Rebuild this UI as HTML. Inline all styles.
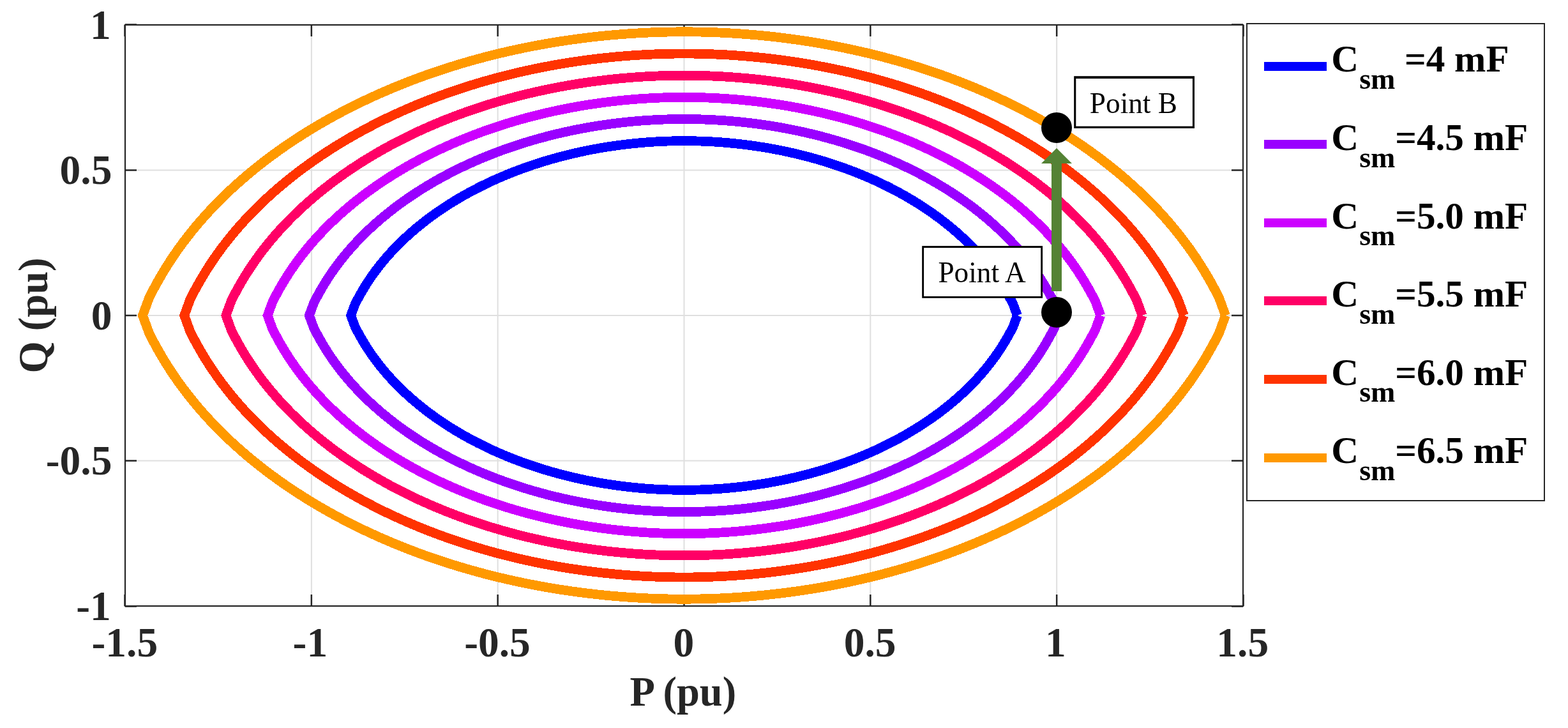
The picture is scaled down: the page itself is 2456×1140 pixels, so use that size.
<!DOCTYPE html>
<html lang="en"><head><meta charset="utf-8"><title>PQ capability vs submodule capacitance</title>
<style>
html,body{margin:0;padding:0;background:#fff;}
body{width:2456px;height:1140px;overflow:hidden;}
svg{display:block;}
text{font-family:"Liberation Serif",serif;}
.tick{font-weight:bold;font-size:65.5px;fill:#262626;}
.lab{font-weight:bold;font-size:64.5px;fill:#262626;}
.leg{font-weight:bold;font-size:59.2px;fill:#000;white-space:pre;}
.sub{font-size:46px;}
.ann{font-size:46px;fill:#000;}
</style></head><body>
<svg width="2456" height="1140" viewBox="0 0 2456 1140" role="img" aria-label="P-Q operating region for six submodule capacitance values">
<rect x="0" y="0" width="2456" height="1140" fill="#fff"/>
<g stroke="#dfdfdf" stroke-width="2" fill="none">
<line x1="487.83" y1="39.0" x2="487.83" y2="949.0"/>
<line x1="779.67" y1="39.0" x2="779.67" y2="949.0"/>
<line x1="1071.50" y1="39.0" x2="1071.50" y2="949.0"/>
<line x1="1363.33" y1="39.0" x2="1363.33" y2="949.0"/>
<line x1="1655.17" y1="39.0" x2="1655.17" y2="949.0"/>
<line x1="196.0" y1="721.50" x2="1947.0" y2="721.50"/>
<line x1="196.0" y1="494.00" x2="1947.0" y2="494.00"/>
<line x1="196.0" y1="266.50" x2="1947.0" y2="266.50"/>
</g>
<g stroke="#262626" stroke-width="2.5" fill="none">
<line x1="195.50" y1="949.0" x2="195.50" y2="931.0"/>
<line x1="195.50" y1="39.0" x2="195.50" y2="57.0"/>
<line x1="487.83" y1="949.0" x2="487.83" y2="931.0"/>
<line x1="487.83" y1="39.0" x2="487.83" y2="57.0"/>
<line x1="779.67" y1="949.0" x2="779.67" y2="931.0"/>
<line x1="779.67" y1="39.0" x2="779.67" y2="57.0"/>
<line x1="1071.50" y1="949.0" x2="1071.50" y2="931.0"/>
<line x1="1071.50" y1="39.0" x2="1071.50" y2="57.0"/>
<line x1="1363.33" y1="949.0" x2="1363.33" y2="931.0"/>
<line x1="1363.33" y1="39.0" x2="1363.33" y2="57.0"/>
<line x1="1655.17" y1="949.0" x2="1655.17" y2="931.0"/>
<line x1="1655.17" y1="39.0" x2="1655.17" y2="57.0"/>
<line x1="1947.50" y1="949.0" x2="1947.50" y2="931.0"/>
<line x1="1947.50" y1="39.0" x2="1947.50" y2="57.0"/>
<line x1="196.0" y1="949.50" x2="214.0" y2="949.50"/>
<line x1="1947.0" y1="949.50" x2="1929.0" y2="949.50"/>
<line x1="196.0" y1="721.50" x2="214.0" y2="721.50"/>
<line x1="1947.0" y1="721.50" x2="1929.0" y2="721.50"/>
<line x1="196.0" y1="494.00" x2="214.0" y2="494.00"/>
<line x1="1947.0" y1="494.00" x2="1929.0" y2="494.00"/>
<line x1="196.0" y1="266.50" x2="214.0" y2="266.50"/>
<line x1="1947.0" y1="266.50" x2="1929.0" y2="266.50"/>
<line x1="196.0" y1="38.50" x2="214.0" y2="38.50"/>
<line x1="1947.0" y1="38.50" x2="1929.0" y2="38.50"/>
</g>
<g fill="none" stroke-width="14.8" stroke-linejoin="miter" stroke-linecap="butt" stroke-miterlimit="10" shape-rendering="crispEdges">
<path d="M1593.39 494.00 L1587.07 476.77 L1583.36 469.59 L1579.69 462.82 L1575.88 456.14 L1571.94 449.55 L1567.85 443.06 L1563.62 436.67 L1559.25 430.37 L1554.75 424.18 L1550.11 418.09 L1545.35 412.11 L1540.47 406.23 L1535.47 400.46 L1530.37 394.80 L1525.15 389.24 L1519.85 383.80 L1514.44 378.46 L1508.95 373.24 L1503.38 368.12 L1497.73 363.12 L1492.01 358.22 L1486.22 353.43 L1480.36 348.75 L1474.45 344.17 L1468.48 339.70 L1462.47 335.34 L1456.40 331.08 L1450.30 326.93 L1444.15 322.88 L1437.98 318.93 L1431.77 315.08 L1425.53 311.33 L1419.26 307.68 L1412.97 304.12 L1406.66 300.66 L1400.34 297.30 L1394.00 294.02 L1387.64 290.84 L1381.28 287.75 L1374.91 284.74 L1368.53 281.82 L1362.14 278.99 L1355.75 276.24 L1349.36 273.58 L1342.97 270.99 L1336.58 268.49 L1330.19 266.06 L1323.81 263.71 L1317.43 261.43 L1311.05 259.23 L1304.68 257.10 L1298.31 255.05 L1291.96 253.06 L1285.61 251.15 L1279.26 249.30 L1272.93 247.52 L1266.61 245.80 L1260.29 244.15 L1253.98 242.56 L1247.69 241.04 L1241.40 239.58 L1235.12 238.17 L1228.85 236.83 L1222.59 235.54 L1216.34 234.32 L1210.10 233.15 L1203.87 232.04 L1197.65 230.98 L1191.43 229.98 L1185.23 229.03 L1179.03 228.13 L1172.84 227.29 L1166.66 226.50 L1160.49 225.76 L1154.32 225.08 L1148.16 224.44 L1142.00 223.86 L1135.85 223.32 L1129.71 222.84 L1123.57 222.40 L1117.43 222.02 L1111.30 221.68 L1105.17 221.39 L1099.05 221.15 L1092.92 220.96 L1086.80 220.81 L1080.68 220.72 L1074.56 220.67 L1071.50 220.66 L1068.44 220.67 L1062.32 220.72 L1056.20 220.81 L1050.08 220.96 L1043.95 221.15 L1037.83 221.39 L1031.70 221.68 L1025.57 222.02 L1019.43 222.40 L1013.29 222.84 L1007.15 223.32 L1001.00 223.86 L994.84 224.44 L988.68 225.08 L982.51 225.76 L976.34 226.50 L970.16 227.29 L963.97 228.13 L957.77 229.03 L951.57 229.98 L945.35 230.98 L939.13 232.04 L932.90 233.15 L926.66 234.32 L920.41 235.54 L914.15 236.83 L907.88 238.17 L901.60 239.58 L895.31 241.04 L889.02 242.56 L882.71 244.15 L876.39 245.80 L870.07 247.52 L863.74 249.30 L857.39 251.15 L851.04 253.06 L844.69 255.05 L838.32 257.10 L831.95 259.23 L825.57 261.43 L819.19 263.71 L812.81 266.06 L806.42 268.49 L800.03 270.99 L793.64 273.58 L787.25 276.24 L780.86 278.99 L774.47 281.82 L768.09 284.74 L761.72 287.75 L755.36 290.84 L749.00 294.02 L742.66 297.30 L736.34 300.66 L730.03 304.12 L723.74 307.68 L717.47 311.33 L711.23 315.08 L705.02 318.93 L698.85 322.88 L692.70 326.93 L686.60 331.08 L680.53 335.34 L674.52 339.70 L668.55 344.17 L662.64 348.75 L656.78 353.43 L650.99 358.22 L645.27 363.12 L639.62 368.12 L634.05 373.24 L628.56 378.46 L623.15 383.80 L617.85 389.24 L612.63 394.80 L607.53 400.46 L602.53 406.23 L597.65 412.11 L592.89 418.09 L588.25 424.18 L583.75 430.37 L579.38 436.67 L575.15 443.06 L571.06 449.55 L567.12 456.14 L563.31 462.82 L559.64 469.59 L555.93 476.77 L549.61 494.00 L555.93 511.23 L559.64 518.41 L563.31 525.18 L567.12 531.86 L571.06 538.45 L575.15 544.94 L579.38 551.33 L583.75 557.63 L588.25 563.82 L592.89 569.91 L597.65 575.89 L602.53 581.77 L607.53 587.54 L612.63 593.20 L617.85 598.76 L623.15 604.20 L628.56 609.54 L634.05 614.76 L639.62 619.88 L645.27 624.88 L650.99 629.78 L656.78 634.57 L662.64 639.25 L668.55 643.83 L674.52 648.30 L680.53 652.66 L686.60 656.92 L692.70 661.07 L698.85 665.12 L705.02 669.07 L711.23 672.92 L717.47 676.67 L723.74 680.32 L730.03 683.88 L736.34 687.34 L742.66 690.70 L749.00 693.98 L755.36 697.16 L761.72 700.25 L768.09 703.26 L774.47 706.18 L780.86 709.01 L787.25 711.76 L793.64 714.42 L800.03 717.01 L806.42 719.51 L812.81 721.94 L819.19 724.29 L825.57 726.57 L831.95 728.77 L838.32 730.90 L844.69 732.95 L851.04 734.94 L857.39 736.85 L863.74 738.70 L870.07 740.48 L876.39 742.20 L882.71 743.85 L889.02 745.44 L895.31 746.96 L901.60 748.42 L907.88 749.83 L914.15 751.17 L920.41 752.46 L926.66 753.68 L932.90 754.85 L939.13 755.96 L945.35 757.02 L951.57 758.02 L957.77 758.97 L963.97 759.87 L970.16 760.71 L976.34 761.50 L982.51 762.24 L988.68 762.92 L994.84 763.56 L1001.00 764.14 L1007.15 764.68 L1013.29 765.16 L1019.43 765.60 L1025.57 765.98 L1031.70 766.32 L1037.83 766.61 L1043.95 766.85 L1050.08 767.04 L1056.20 767.19 L1062.32 767.28 L1068.44 767.33 L1071.50 767.34 L1074.56 767.33 L1080.68 767.28 L1086.80 767.19 L1092.92 767.04 L1099.05 766.85 L1105.17 766.61 L1111.30 766.32 L1117.43 765.98 L1123.57 765.60 L1129.71 765.16 L1135.85 764.68 L1142.00 764.14 L1148.16 763.56 L1154.32 762.92 L1160.49 762.24 L1166.66 761.50 L1172.84 760.71 L1179.03 759.87 L1185.23 758.97 L1191.43 758.02 L1197.65 757.02 L1203.87 755.96 L1210.10 754.85 L1216.34 753.68 L1222.59 752.46 L1228.85 751.17 L1235.12 749.83 L1241.40 748.42 L1247.69 746.96 L1253.98 745.44 L1260.29 743.85 L1266.61 742.20 L1272.93 740.48 L1279.26 738.70 L1285.61 736.85 L1291.96 734.94 L1298.31 732.95 L1304.68 730.90 L1311.05 728.77 L1317.43 726.57 L1323.81 724.29 L1330.19 721.94 L1336.58 719.51 L1342.97 717.01 L1349.36 714.42 L1355.75 711.76 L1362.14 709.01 L1368.53 706.18 L1374.91 703.26 L1381.28 700.25 L1387.64 697.16 L1394.00 693.98 L1400.34 690.70 L1406.66 687.34 L1412.97 683.88 L1419.26 680.32 L1425.53 676.67 L1431.77 672.92 L1437.98 669.07 L1444.15 665.12 L1450.30 661.07 L1456.40 656.92 L1462.47 652.66 L1468.48 648.30 L1474.45 643.83 L1480.36 639.25 L1486.22 634.57 L1492.01 629.78 L1497.73 624.88 L1503.38 619.88 L1508.95 614.76 L1514.44 609.54 L1519.85 604.20 L1525.15 598.76 L1530.37 593.20 L1535.47 587.54 L1540.47 581.77 L1545.35 575.89 L1550.11 569.91 L1554.75 563.82 L1559.25 557.63 L1563.62 551.33 L1567.85 544.94 L1571.94 538.45 L1575.88 531.86 L1579.69 525.18 L1583.36 518.41 L1587.07 511.23 L1593.39 494.00" stroke="#0000ff"/>
<path d="M1658.62 494.00 L1651.51 474.61 L1647.35 466.54 L1643.22 458.92 L1638.93 451.41 L1634.49 444.00 L1629.89 436.69 L1625.13 429.50 L1620.22 422.42 L1615.15 415.45 L1609.94 408.60 L1604.58 401.87 L1599.09 395.26 L1593.47 388.77 L1587.72 382.40 L1581.86 376.15 L1575.89 370.02 L1569.81 364.02 L1563.63 358.14 L1557.36 352.39 L1551.01 346.76 L1544.57 341.24 L1538.05 335.86 L1531.47 330.59 L1524.82 325.44 L1518.11 320.42 L1511.34 315.51 L1504.52 310.72 L1497.65 306.05 L1490.74 301.49 L1483.79 297.05 L1476.80 292.72 L1469.78 288.50 L1462.73 284.39 L1455.66 280.39 L1448.56 276.50 L1441.44 272.71 L1434.31 269.03 L1427.16 265.45 L1420.00 261.97 L1412.83 258.59 L1405.66 255.30 L1398.47 252.12 L1391.29 249.02 L1384.10 246.02 L1376.91 243.11 L1369.72 240.30 L1362.53 237.57 L1355.35 234.92 L1348.17 232.36 L1340.99 229.89 L1333.83 227.49 L1326.67 225.18 L1319.51 222.95 L1312.37 220.79 L1305.24 218.71 L1298.11 216.71 L1290.99 214.78 L1283.89 212.92 L1276.79 211.13 L1269.71 209.42 L1262.64 207.77 L1255.57 206.19 L1248.52 204.68 L1241.48 203.24 L1234.45 201.86 L1227.43 200.54 L1220.42 199.29 L1213.42 198.10 L1206.43 196.97 L1199.45 195.91 L1192.47 194.90 L1185.51 193.95 L1178.56 193.06 L1171.61 192.23 L1164.67 191.46 L1157.74 190.75 L1150.82 190.09 L1143.90 189.49 L1136.98 188.94 L1130.08 188.45 L1123.17 188.02 L1116.28 187.64 L1109.38 187.31 L1102.49 187.04 L1095.60 186.83 L1088.71 186.66 L1081.83 186.56 L1074.94 186.50 L1071.50 186.50 L1068.06 186.50 L1061.17 186.56 L1054.29 186.66 L1047.40 186.83 L1040.51 187.04 L1033.62 187.31 L1026.72 187.64 L1019.83 188.02 L1012.92 188.45 L1006.02 188.94 L999.10 189.49 L992.18 190.09 L985.26 190.75 L978.33 191.46 L971.39 192.23 L964.44 193.06 L957.49 193.95 L950.53 194.90 L943.55 195.91 L936.57 196.97 L929.58 198.10 L922.58 199.29 L915.57 200.54 L908.55 201.86 L901.52 203.24 L894.48 204.68 L887.43 206.19 L880.36 207.77 L873.29 209.42 L866.21 211.13 L859.11 212.92 L852.01 214.78 L844.89 216.71 L837.76 218.71 L830.63 220.79 L823.49 222.95 L816.33 225.18 L809.17 227.49 L802.01 229.89 L794.83 232.36 L787.65 234.92 L780.47 237.57 L773.28 240.30 L766.09 243.11 L758.90 246.02 L751.71 249.02 L744.53 252.12 L737.34 255.30 L730.17 258.59 L723.00 261.97 L715.84 265.45 L708.69 269.03 L701.56 272.71 L694.44 276.50 L687.34 280.39 L680.27 284.39 L673.22 288.50 L666.20 292.72 L659.21 297.05 L652.26 301.49 L645.35 306.05 L638.48 310.72 L631.66 315.51 L624.89 320.42 L618.18 325.44 L611.53 330.59 L604.95 335.86 L598.43 341.24 L591.99 346.76 L585.64 352.39 L579.37 358.14 L573.19 364.02 L567.11 370.02 L561.14 376.15 L555.28 382.40 L549.53 388.77 L543.91 395.26 L538.42 401.87 L533.06 408.60 L527.85 415.45 L522.78 422.42 L517.87 429.50 L513.11 436.69 L508.51 444.00 L504.07 451.41 L499.78 458.92 L495.65 466.54 L491.49 474.61 L484.38 494.00 L491.49 513.39 L495.65 521.46 L499.78 529.08 L504.07 536.59 L508.51 544.00 L513.11 551.31 L517.87 558.50 L522.78 565.58 L527.85 572.55 L533.06 579.40 L538.42 586.13 L543.91 592.74 L549.53 599.23 L555.28 605.60 L561.14 611.85 L567.11 617.98 L573.19 623.98 L579.37 629.86 L585.64 635.61 L591.99 641.24 L598.43 646.76 L604.95 652.14 L611.53 657.41 L618.18 662.56 L624.89 667.58 L631.66 672.49 L638.48 677.28 L645.35 681.95 L652.26 686.51 L659.21 690.95 L666.20 695.28 L673.22 699.50 L680.27 703.61 L687.34 707.61 L694.44 711.50 L701.56 715.29 L708.69 718.97 L715.84 722.55 L723.00 726.03 L730.17 729.41 L737.34 732.70 L744.53 735.88 L751.71 738.98 L758.90 741.98 L766.09 744.89 L773.28 747.70 L780.47 750.43 L787.65 753.08 L794.83 755.64 L802.01 758.11 L809.17 760.51 L816.33 762.82 L823.49 765.05 L830.63 767.21 L837.76 769.29 L844.89 771.29 L852.01 773.22 L859.11 775.08 L866.21 776.87 L873.29 778.58 L880.36 780.23 L887.43 781.81 L894.48 783.32 L901.52 784.76 L908.55 786.14 L915.57 787.46 L922.58 788.71 L929.58 789.90 L936.57 791.03 L943.55 792.09 L950.53 793.10 L957.49 794.05 L964.44 794.94 L971.39 795.77 L978.33 796.54 L985.26 797.25 L992.18 797.91 L999.10 798.51 L1006.02 799.06 L1012.92 799.55 L1019.83 799.98 L1026.72 800.36 L1033.62 800.69 L1040.51 800.96 L1047.40 801.17 L1054.29 801.34 L1061.17 801.44 L1068.06 801.50 L1071.50 801.50 L1074.94 801.50 L1081.83 801.44 L1088.71 801.34 L1095.60 801.17 L1102.49 800.96 L1109.38 800.69 L1116.28 800.36 L1123.17 799.98 L1130.08 799.55 L1136.98 799.06 L1143.90 798.51 L1150.82 797.91 L1157.74 797.25 L1164.67 796.54 L1171.61 795.77 L1178.56 794.94 L1185.51 794.05 L1192.47 793.10 L1199.45 792.09 L1206.43 791.03 L1213.42 789.90 L1220.42 788.71 L1227.43 787.46 L1234.45 786.14 L1241.48 784.76 L1248.52 783.32 L1255.57 781.81 L1262.64 780.23 L1269.71 778.58 L1276.79 776.87 L1283.89 775.08 L1290.99 773.22 L1298.11 771.29 L1305.24 769.29 L1312.37 767.21 L1319.51 765.05 L1326.67 762.82 L1333.83 760.51 L1340.99 758.11 L1348.17 755.64 L1355.35 753.08 L1362.53 750.43 L1369.72 747.70 L1376.91 744.89 L1384.10 741.98 L1391.29 738.98 L1398.47 735.88 L1405.66 732.70 L1412.83 729.41 L1420.00 726.03 L1427.16 722.55 L1434.31 718.97 L1441.44 715.29 L1448.56 711.50 L1455.66 707.61 L1462.73 703.61 L1469.78 699.50 L1476.80 695.28 L1483.79 690.95 L1490.74 686.51 L1497.65 681.95 L1504.52 677.28 L1511.34 672.49 L1518.11 667.58 L1524.82 662.56 L1531.47 657.41 L1538.05 652.14 L1544.57 646.76 L1551.01 641.24 L1557.36 635.61 L1563.63 629.86 L1569.81 623.98 L1575.89 617.98 L1581.86 611.85 L1587.72 605.60 L1593.47 599.23 L1599.09 592.74 L1604.58 586.13 L1609.94 579.40 L1615.15 572.55 L1620.22 565.58 L1625.13 558.50 L1629.89 551.31 L1634.49 544.00 L1638.93 536.59 L1643.22 529.08 L1647.35 521.46 L1651.51 513.39 L1658.62 494.00" stroke="#9900ff"/>
<path d="M1723.86 494.00 L1715.96 472.46 L1711.33 463.49 L1706.74 455.03 L1701.98 446.67 L1697.05 438.44 L1691.94 430.32 L1686.65 422.33 L1681.19 414.46 L1675.56 406.72 L1669.77 399.11 L1663.81 391.63 L1657.71 384.29 L1651.47 377.08 L1645.08 370.00 L1638.57 363.06 L1631.93 356.25 L1625.18 349.58 L1618.32 343.05 L1611.35 336.65 L1604.29 330.39 L1597.13 324.27 L1589.89 318.29 L1582.58 312.43 L1575.19 306.71 L1567.73 301.13 L1560.21 295.68 L1552.63 290.36 L1545.00 285.16 L1537.32 280.10 L1529.59 275.16 L1521.83 270.35 L1514.03 265.66 L1506.20 261.10 L1498.34 256.65 L1490.46 252.33 L1482.55 248.12 L1474.62 244.03 L1466.68 240.05 L1458.73 236.18 L1450.76 232.43 L1442.78 228.78 L1434.80 225.24 L1426.82 221.80 L1418.83 218.47 L1410.84 215.24 L1402.85 212.11 L1394.87 209.07 L1386.89 206.13 L1378.91 203.29 L1370.94 200.54 L1362.97 197.88 L1355.02 195.31 L1347.07 192.83 L1339.13 190.43 L1331.21 188.12 L1323.29 185.90 L1315.38 183.75 L1307.49 181.69 L1299.60 179.70 L1291.73 177.80 L1283.87 175.97 L1276.03 174.22 L1268.19 172.54 L1260.37 170.93 L1252.55 169.40 L1244.75 167.94 L1236.96 166.55 L1229.19 165.22 L1221.42 163.97 L1213.66 162.78 L1205.92 161.67 L1198.18 160.61 L1190.45 159.63 L1182.73 158.71 L1175.02 157.85 L1167.32 157.05 L1159.63 156.32 L1151.94 155.65 L1144.26 155.05 L1136.59 154.50 L1128.92 154.02 L1121.25 153.60 L1113.59 153.24 L1105.93 152.94 L1098.28 152.70 L1090.63 152.52 L1082.97 152.40 L1075.32 152.34 L1071.50 152.33 L1067.68 152.34 L1060.03 152.40 L1052.37 152.52 L1044.72 152.70 L1037.07 152.94 L1029.41 153.24 L1021.75 153.60 L1014.08 154.02 L1006.41 154.50 L998.74 155.05 L991.06 155.65 L983.37 156.32 L975.68 157.05 L967.98 157.85 L960.27 158.71 L952.55 159.63 L944.82 160.61 L937.08 161.67 L929.34 162.78 L921.58 163.97 L913.81 165.22 L906.04 166.55 L898.25 167.94 L890.45 169.40 L882.63 170.93 L874.81 172.54 L866.97 174.22 L859.13 175.97 L851.27 177.80 L843.40 179.70 L835.51 181.69 L827.62 183.75 L819.71 185.90 L811.79 188.12 L803.87 190.43 L795.93 192.83 L787.98 195.31 L780.03 197.88 L772.06 200.54 L764.09 203.29 L756.11 206.13 L748.13 209.07 L740.15 212.11 L732.16 215.24 L724.17 218.47 L716.18 221.80 L708.20 225.24 L700.22 228.78 L692.24 232.43 L684.27 236.18 L676.32 240.05 L668.38 244.03 L660.45 248.12 L652.54 252.33 L644.66 256.65 L636.80 261.10 L628.97 265.66 L621.17 270.35 L613.41 275.16 L605.68 280.10 L598.00 285.16 L590.37 290.36 L582.79 295.68 L575.27 301.13 L567.81 306.71 L560.42 312.43 L553.11 318.29 L545.87 324.27 L538.71 330.39 L531.65 336.65 L524.68 343.05 L517.82 349.58 L511.07 356.25 L504.43 363.06 L497.92 370.00 L491.53 377.08 L485.29 384.29 L479.19 391.63 L473.23 399.11 L467.44 406.72 L461.81 414.46 L456.35 422.33 L451.06 430.32 L445.95 438.44 L441.02 446.67 L436.26 455.03 L431.67 463.49 L427.04 472.46 L419.14 494.00 L427.04 515.54 L431.67 524.51 L436.26 532.97 L441.02 541.33 L445.95 549.56 L451.06 557.68 L456.35 565.67 L461.81 573.54 L467.44 581.28 L473.23 588.89 L479.19 596.37 L485.29 603.71 L491.53 610.92 L497.92 618.00 L504.43 624.94 L511.07 631.75 L517.82 638.42 L524.68 644.95 L531.65 651.35 L538.71 657.61 L545.87 663.73 L553.11 669.71 L560.42 675.57 L567.81 681.29 L575.27 686.87 L582.79 692.32 L590.37 697.64 L598.00 702.84 L605.68 707.90 L613.41 712.84 L621.17 717.65 L628.97 722.34 L636.80 726.90 L644.66 731.35 L652.54 735.67 L660.45 739.88 L668.38 743.97 L676.32 747.95 L684.27 751.82 L692.24 755.57 L700.22 759.22 L708.20 762.76 L716.18 766.20 L724.17 769.53 L732.16 772.76 L740.15 775.89 L748.13 778.93 L756.11 781.87 L764.09 784.71 L772.06 787.46 L780.03 790.12 L787.98 792.69 L795.93 795.17 L803.87 797.57 L811.79 799.88 L819.71 802.10 L827.62 804.25 L835.51 806.31 L843.40 808.30 L851.27 810.20 L859.13 812.03 L866.97 813.78 L874.81 815.46 L882.63 817.07 L890.45 818.60 L898.25 820.06 L906.04 821.45 L913.81 822.78 L921.58 824.03 L929.34 825.22 L937.08 826.33 L944.82 827.39 L952.55 828.37 L960.27 829.29 L967.98 830.15 L975.68 830.95 L983.37 831.68 L991.06 832.35 L998.74 832.95 L1006.41 833.50 L1014.08 833.98 L1021.75 834.40 L1029.41 834.76 L1037.07 835.06 L1044.72 835.30 L1052.37 835.48 L1060.03 835.60 L1067.68 835.66 L1071.50 835.67 L1075.32 835.66 L1082.97 835.60 L1090.63 835.48 L1098.28 835.30 L1105.93 835.06 L1113.59 834.76 L1121.25 834.40 L1128.92 833.98 L1136.59 833.50 L1144.26 832.95 L1151.94 832.35 L1159.63 831.68 L1167.32 830.95 L1175.02 830.15 L1182.73 829.29 L1190.45 828.37 L1198.18 827.39 L1205.92 826.33 L1213.66 825.22 L1221.42 824.03 L1229.19 822.78 L1236.96 821.45 L1244.75 820.06 L1252.55 818.60 L1260.37 817.07 L1268.19 815.46 L1276.03 813.78 L1283.87 812.03 L1291.73 810.20 L1299.60 808.30 L1307.49 806.31 L1315.38 804.25 L1323.29 802.10 L1331.21 799.88 L1339.13 797.57 L1347.07 795.17 L1355.02 792.69 L1362.97 790.12 L1370.94 787.46 L1378.91 784.71 L1386.89 781.87 L1394.87 778.93 L1402.85 775.89 L1410.84 772.76 L1418.83 769.53 L1426.82 766.20 L1434.80 762.76 L1442.78 759.22 L1450.76 755.57 L1458.73 751.82 L1466.68 747.95 L1474.62 743.97 L1482.55 739.88 L1490.46 735.67 L1498.34 731.35 L1506.20 726.90 L1514.03 722.34 L1521.83 717.65 L1529.59 712.84 L1537.32 707.90 L1545.00 702.84 L1552.63 697.64 L1560.21 692.32 L1567.73 686.87 L1575.19 681.29 L1582.58 675.57 L1589.89 669.71 L1597.13 663.73 L1604.29 657.61 L1611.35 651.35 L1618.32 644.95 L1625.18 638.42 L1631.93 631.75 L1638.57 624.94 L1645.08 618.00 L1651.47 610.92 L1657.71 603.71 L1663.81 596.37 L1669.77 588.89 L1675.56 581.28 L1681.19 573.54 L1686.65 565.67 L1691.94 557.68 L1697.05 549.56 L1701.98 541.33 L1706.74 532.97 L1711.33 524.51 L1715.96 515.54 L1723.86 494.00" stroke="#cc00ff"/>
<path d="M1789.10 494.00 L1780.41 470.31 L1775.31 460.44 L1770.26 451.13 L1765.03 441.94 L1759.60 432.88 L1753.98 423.96 L1748.16 415.17 L1742.16 406.51 L1735.96 398.00 L1729.59 389.63 L1723.05 381.40 L1716.33 373.32 L1709.46 365.38 L1702.44 357.60 L1695.28 349.96 L1687.98 342.47 L1680.55 335.14 L1673.00 327.95 L1665.33 320.92 L1657.56 314.03 L1649.70 307.30 L1641.73 300.71 L1633.68 294.28 L1625.56 287.99 L1617.35 281.84 L1609.08 275.84 L1600.74 269.99 L1592.35 264.28 L1583.90 258.71 L1575.40 253.28 L1566.86 247.99 L1558.29 242.83 L1549.67 237.81 L1541.03 232.92 L1532.35 228.16 L1523.65 223.53 L1514.94 219.03 L1506.20 214.66 L1497.45 210.40 L1488.69 206.27 L1479.91 202.26 L1471.13 198.36 L1462.35 194.58 L1453.56 190.92 L1444.77 187.36 L1435.99 183.92 L1427.20 180.58 L1418.42 177.35 L1409.65 174.22 L1400.88 171.19 L1392.12 168.27 L1383.37 165.44 L1374.63 162.71 L1365.90 160.08 L1357.18 157.54 L1348.47 155.09 L1339.77 152.73 L1331.09 150.46 L1322.41 148.27 L1313.76 146.18 L1305.11 144.17 L1296.48 142.24 L1287.86 140.39 L1279.25 138.62 L1270.66 136.94 L1262.08 135.33 L1253.51 133.80 L1244.95 132.35 L1236.41 130.97 L1227.88 129.66 L1219.36 128.43 L1210.85 127.28 L1202.35 126.19 L1193.86 125.18 L1185.38 124.23 L1176.91 123.36 L1168.44 122.55 L1159.99 121.82 L1151.54 121.15 L1143.09 120.55 L1134.66 120.02 L1126.23 119.56 L1117.80 119.16 L1109.38 118.83 L1100.96 118.57 L1092.54 118.37 L1084.12 118.24 L1075.71 118.17 L1071.50 118.16 L1067.29 118.17 L1058.88 118.24 L1050.46 118.37 L1042.04 118.57 L1033.62 118.83 L1025.20 119.16 L1016.77 119.56 L1008.34 120.02 L999.91 120.55 L991.46 121.15 L983.01 121.82 L974.56 122.55 L966.09 123.36 L957.62 124.23 L949.14 125.18 L940.65 126.19 L932.15 127.28 L923.64 128.43 L915.12 129.66 L906.59 130.97 L898.05 132.35 L889.49 133.80 L880.92 135.33 L872.34 136.94 L863.75 138.62 L855.14 140.39 L846.52 142.24 L837.89 144.17 L829.24 146.18 L820.59 148.27 L811.91 150.46 L803.23 152.73 L794.53 155.09 L785.82 157.54 L777.10 160.08 L768.37 162.71 L759.63 165.44 L750.88 168.27 L742.12 171.19 L733.35 174.22 L724.58 177.35 L715.80 180.58 L707.01 183.92 L698.23 187.36 L689.44 190.92 L680.65 194.58 L671.87 198.36 L663.09 202.26 L654.31 206.27 L645.55 210.40 L636.80 214.66 L628.06 219.03 L619.35 223.53 L610.65 228.16 L601.97 232.92 L593.33 237.81 L584.71 242.83 L576.14 247.99 L567.60 253.28 L559.10 258.71 L550.65 264.28 L542.26 269.99 L533.92 275.84 L525.65 281.84 L517.44 287.99 L509.32 294.28 L501.27 300.71 L493.30 307.30 L485.44 314.03 L477.67 320.92 L470.00 327.95 L462.45 335.14 L455.02 342.47 L447.72 349.96 L440.56 357.60 L433.54 365.38 L426.67 373.32 L419.95 381.40 L413.41 389.63 L407.04 398.00 L400.84 406.51 L394.84 415.17 L389.02 423.96 L383.40 432.88 L377.97 441.94 L372.74 451.13 L367.69 460.44 L362.59 470.31 L353.90 494.00 L362.59 517.69 L367.69 527.56 L372.74 536.87 L377.97 546.06 L383.40 555.12 L389.02 564.04 L394.84 572.83 L400.84 581.49 L407.04 590.00 L413.41 598.37 L419.95 606.60 L426.67 614.68 L433.54 622.62 L440.56 630.40 L447.72 638.04 L455.02 645.53 L462.45 652.86 L470.00 660.05 L477.67 667.08 L485.44 673.97 L493.30 680.70 L501.27 687.29 L509.32 693.72 L517.44 700.01 L525.65 706.16 L533.92 712.16 L542.26 718.01 L550.65 723.72 L559.10 729.29 L567.60 734.72 L576.14 740.01 L584.71 745.17 L593.33 750.19 L601.97 755.08 L610.65 759.84 L619.35 764.47 L628.06 768.97 L636.80 773.34 L645.55 777.60 L654.31 781.73 L663.09 785.74 L671.87 789.64 L680.65 793.42 L689.44 797.08 L698.23 800.64 L707.01 804.08 L715.80 807.42 L724.58 810.65 L733.35 813.78 L742.12 816.81 L750.88 819.73 L759.63 822.56 L768.37 825.29 L777.10 827.92 L785.82 830.46 L794.53 832.91 L803.23 835.27 L811.91 837.54 L820.59 839.73 L829.24 841.82 L837.89 843.83 L846.52 845.76 L855.14 847.61 L863.75 849.38 L872.34 851.06 L880.92 852.67 L889.49 854.20 L898.05 855.65 L906.59 857.03 L915.12 858.34 L923.64 859.57 L932.15 860.72 L940.65 861.81 L949.14 862.82 L957.62 863.77 L966.09 864.64 L974.56 865.45 L983.01 866.18 L991.46 866.85 L999.91 867.45 L1008.34 867.98 L1016.77 868.44 L1025.20 868.84 L1033.62 869.17 L1042.04 869.43 L1050.46 869.63 L1058.88 869.76 L1067.29 869.83 L1071.50 869.84 L1075.71 869.83 L1084.12 869.76 L1092.54 869.63 L1100.96 869.43 L1109.38 869.17 L1117.80 868.84 L1126.23 868.44 L1134.66 867.98 L1143.09 867.45 L1151.54 866.85 L1159.99 866.18 L1168.44 865.45 L1176.91 864.64 L1185.38 863.77 L1193.86 862.82 L1202.35 861.81 L1210.85 860.72 L1219.36 859.57 L1227.88 858.34 L1236.41 857.03 L1244.95 855.65 L1253.51 854.20 L1262.08 852.67 L1270.66 851.06 L1279.25 849.38 L1287.86 847.61 L1296.48 845.76 L1305.11 843.83 L1313.76 841.82 L1322.41 839.73 L1331.09 837.54 L1339.77 835.27 L1348.47 832.91 L1357.18 830.46 L1365.90 827.92 L1374.63 825.29 L1383.37 822.56 L1392.12 819.73 L1400.88 816.81 L1409.65 813.78 L1418.42 810.65 L1427.20 807.42 L1435.99 804.08 L1444.77 800.64 L1453.56 797.08 L1462.35 793.42 L1471.13 789.64 L1479.91 785.74 L1488.69 781.73 L1497.45 777.60 L1506.20 773.34 L1514.94 768.97 L1523.65 764.47 L1532.35 759.84 L1541.03 755.08 L1549.67 750.19 L1558.29 745.17 L1566.86 740.01 L1575.40 734.72 L1583.90 729.29 L1592.35 723.72 L1600.74 718.01 L1609.08 712.16 L1617.35 706.16 L1625.56 700.01 L1633.68 693.72 L1641.73 687.29 L1649.70 680.70 L1657.56 673.97 L1665.33 667.08 L1673.00 660.05 L1680.55 652.86 L1687.98 645.53 L1695.28 638.04 L1702.44 630.40 L1709.46 622.62 L1716.33 614.68 L1723.05 606.60 L1729.59 598.37 L1735.96 590.00 L1742.16 581.49 L1748.16 572.83 L1753.98 564.04 L1759.60 555.12 L1765.03 546.06 L1770.26 536.87 L1775.31 527.56 L1780.41 517.69 L1789.10 494.00" stroke="#ff0066"/>
<path d="M1854.33 494.00 L1844.85 468.15 L1839.29 457.39 L1833.79 447.23 L1828.08 437.21 L1822.16 427.33 L1816.02 417.59 L1809.68 408.00 L1803.13 398.56 L1796.37 389.27 L1789.42 380.14 L1782.28 371.16 L1774.95 362.35 L1767.46 353.69 L1759.80 345.20 L1751.98 336.87 L1744.02 328.70 L1735.91 320.70 L1727.68 312.86 L1719.32 305.18 L1710.84 297.67 L1702.26 290.33 L1693.57 283.14 L1684.79 276.12 L1675.92 269.26 L1666.97 262.56 L1657.95 256.01 L1648.86 249.63 L1639.70 243.40 L1630.48 237.32 L1621.21 231.40 L1611.90 225.62 L1602.54 220.00 L1593.14 214.52 L1583.71 209.19 L1574.25 204.00 L1564.76 198.95 L1555.25 194.03 L1545.72 189.26 L1536.17 184.62 L1526.61 180.11 L1517.04 175.74 L1507.46 171.49 L1497.88 167.36 L1488.30 163.36 L1478.71 159.49 L1469.12 155.73 L1459.54 152.09 L1449.96 148.56 L1440.39 145.15 L1430.83 141.85 L1421.27 138.66 L1411.72 135.57 L1402.19 132.60 L1392.66 129.72 L1383.15 126.95 L1373.65 124.28 L1364.16 121.70 L1354.69 119.23 L1345.23 116.85 L1335.78 114.56 L1326.35 112.36 L1316.93 110.26 L1307.53 108.24 L1298.14 106.32 L1288.76 104.48 L1279.40 102.72 L1270.06 101.05 L1260.72 99.47 L1251.40 97.96 L1242.09 96.54 L1232.80 95.20 L1223.52 93.94 L1214.24 92.75 L1204.98 91.65 L1195.73 90.62 L1186.49 89.66 L1177.25 88.79 L1168.03 87.98 L1158.81 87.26 L1149.60 86.60 L1140.40 86.02 L1131.20 85.52 L1122.01 85.08 L1112.82 84.72 L1103.63 84.44 L1094.45 84.22 L1085.27 84.08 L1076.09 84.00 L1071.50 83.99 L1066.91 84.00 L1057.73 84.08 L1048.55 84.22 L1039.37 84.44 L1030.18 84.72 L1020.99 85.08 L1011.80 85.52 L1002.60 86.02 L993.40 86.60 L984.19 87.26 L974.97 87.98 L965.75 88.79 L956.51 89.66 L947.27 90.62 L938.02 91.65 L928.76 92.75 L919.48 93.94 L910.20 95.20 L900.91 96.54 L891.60 97.96 L882.28 99.47 L872.94 101.05 L863.60 102.72 L854.24 104.48 L844.86 106.32 L835.47 108.24 L826.07 110.26 L816.65 112.36 L807.22 114.56 L797.77 116.85 L788.31 119.23 L778.84 121.70 L769.35 124.28 L759.85 126.95 L750.34 129.72 L740.81 132.60 L731.28 135.57 L721.73 138.66 L712.17 141.85 L702.61 145.15 L693.04 148.56 L683.46 152.09 L673.88 155.73 L664.29 159.49 L654.70 163.36 L645.12 167.36 L635.54 171.49 L625.96 175.74 L616.39 180.11 L606.83 184.62 L597.28 189.26 L587.75 194.03 L578.24 198.95 L568.75 204.00 L559.29 209.19 L549.86 214.52 L540.46 220.00 L531.10 225.62 L521.79 231.40 L512.52 237.32 L503.30 243.40 L494.14 249.63 L485.05 256.01 L476.03 262.56 L467.08 269.26 L458.21 276.12 L449.43 283.14 L440.74 290.33 L432.16 297.67 L423.68 305.18 L415.32 312.86 L407.09 320.70 L398.98 328.70 L391.02 336.87 L383.20 345.20 L375.54 353.69 L368.05 362.35 L360.72 371.16 L353.58 380.14 L346.63 389.27 L339.87 398.56 L333.32 408.00 L326.98 417.59 L320.84 427.33 L314.92 437.21 L309.21 447.23 L303.71 457.39 L298.15 468.15 L288.67 494.00 L298.15 519.85 L303.71 530.61 L309.21 540.77 L314.92 550.79 L320.84 560.67 L326.98 570.41 L333.32 580.00 L339.87 589.44 L346.63 598.73 L353.58 607.86 L360.72 616.84 L368.05 625.65 L375.54 634.31 L383.20 642.80 L391.02 651.13 L398.98 659.30 L407.09 667.30 L415.32 675.14 L423.68 682.82 L432.16 690.33 L440.74 697.67 L449.43 704.86 L458.21 711.88 L467.08 718.74 L476.03 725.44 L485.05 731.99 L494.14 738.37 L503.30 744.60 L512.52 750.68 L521.79 756.60 L531.10 762.38 L540.46 768.00 L549.86 773.48 L559.29 778.81 L568.75 784.00 L578.24 789.05 L587.75 793.97 L597.28 798.74 L606.83 803.38 L616.39 807.89 L625.96 812.26 L635.54 816.51 L645.12 820.64 L654.70 824.64 L664.29 828.51 L673.88 832.27 L683.46 835.91 L693.04 839.44 L702.61 842.85 L712.17 846.15 L721.73 849.34 L731.28 852.43 L740.81 855.40 L750.34 858.28 L759.85 861.05 L769.35 863.72 L778.84 866.30 L788.31 868.77 L797.77 871.15 L807.22 873.44 L816.65 875.64 L826.07 877.74 L835.47 879.76 L844.86 881.68 L854.24 883.52 L863.60 885.28 L872.94 886.95 L882.28 888.53 L891.60 890.04 L900.91 891.46 L910.20 892.80 L919.48 894.06 L928.76 895.25 L938.02 896.35 L947.27 897.38 L956.51 898.34 L965.75 899.21 L974.97 900.02 L984.19 900.74 L993.40 901.40 L1002.60 901.98 L1011.80 902.48 L1020.99 902.92 L1030.18 903.28 L1039.37 903.56 L1048.55 903.78 L1057.73 903.92 L1066.91 904.00 L1071.50 904.01 L1076.09 904.00 L1085.27 903.92 L1094.45 903.78 L1103.63 903.56 L1112.82 903.28 L1122.01 902.92 L1131.20 902.48 L1140.40 901.98 L1149.60 901.40 L1158.81 900.74 L1168.03 900.02 L1177.25 899.21 L1186.49 898.34 L1195.73 897.38 L1204.98 896.35 L1214.24 895.25 L1223.52 894.06 L1232.80 892.80 L1242.09 891.46 L1251.40 890.04 L1260.72 888.53 L1270.06 886.95 L1279.40 885.28 L1288.76 883.52 L1298.14 881.68 L1307.53 879.76 L1316.93 877.74 L1326.35 875.64 L1335.78 873.44 L1345.23 871.15 L1354.69 868.77 L1364.16 866.30 L1373.65 863.72 L1383.15 861.05 L1392.66 858.28 L1402.19 855.40 L1411.72 852.43 L1421.27 849.34 L1430.83 846.15 L1440.39 842.85 L1449.96 839.44 L1459.54 835.91 L1469.12 832.27 L1478.71 828.51 L1488.30 824.64 L1497.88 820.64 L1507.46 816.51 L1517.04 812.26 L1526.61 807.89 L1536.17 803.38 L1545.72 798.74 L1555.25 793.97 L1564.76 789.05 L1574.25 784.00 L1583.71 778.81 L1593.14 773.48 L1602.54 768.00 L1611.90 762.38 L1621.21 756.60 L1630.48 750.68 L1639.70 744.60 L1648.86 738.37 L1657.95 731.99 L1666.97 725.44 L1675.92 718.74 L1684.79 711.88 L1693.57 704.86 L1702.26 697.67 L1710.84 690.33 L1719.32 682.82 L1727.68 675.14 L1735.91 667.30 L1744.02 659.30 L1751.98 651.13 L1759.80 642.80 L1767.46 634.31 L1774.95 625.65 L1782.28 616.84 L1789.42 607.86 L1796.37 598.73 L1803.13 589.44 L1809.68 580.00 L1816.02 570.41 L1822.16 560.67 L1828.08 550.79 L1833.79 540.77 L1839.29 530.61 L1844.85 519.85 L1854.33 494.00" stroke="#ff3300"/>
<path d="M1919.57 494.00 L1909.30 466.00 L1903.28 454.34 L1897.31 443.33 L1891.12 432.48 L1884.71 421.77 L1878.07 411.22 L1871.19 400.83 L1864.10 390.60 L1856.78 380.54 L1849.24 370.65 L1841.51 360.92 L1833.58 351.37 L1825.46 342.00 L1817.16 332.80 L1808.69 323.77 L1800.06 314.92 L1791.28 306.26 L1782.36 297.76 L1773.30 289.45 L1764.12 281.31 L1754.82 273.35 L1745.41 265.57 L1735.90 257.96 L1726.29 250.53 L1716.60 243.27 L1706.82 236.18 L1696.97 229.26 L1687.05 222.51 L1677.06 215.93 L1667.02 209.51 L1656.93 203.26 L1646.79 197.16 L1636.61 191.23 L1626.39 185.45 L1616.14 179.83 L1605.86 174.36 L1595.56 169.04 L1585.24 163.87 L1574.89 158.84 L1564.54 153.96 L1554.17 149.21 L1543.79 144.61 L1533.41 140.14 L1523.03 135.81 L1512.64 131.61 L1502.26 127.54 L1491.88 123.59 L1481.50 119.77 L1471.13 116.08 L1460.77 112.50 L1450.42 109.05 L1440.07 105.70 L1429.74 102.48 L1419.42 99.36 L1409.12 96.36 L1398.83 93.47 L1388.55 90.68 L1378.28 88.00 L1368.04 85.42 L1357.80 82.94 L1347.59 80.56 L1337.38 78.28 L1327.20 76.10 L1317.03 74.01 L1306.87 72.02 L1296.73 70.12 L1286.60 68.31 L1276.49 66.59 L1266.39 64.96 L1256.31 63.42 L1246.24 61.97 L1236.18 60.60 L1226.14 59.32 L1216.10 58.12 L1206.08 57.00 L1196.07 55.97 L1186.07 55.02 L1176.07 54.15 L1166.09 53.36 L1156.11 52.65 L1146.14 52.03 L1136.18 51.48 L1126.22 51.01 L1116.26 50.62 L1106.31 50.31 L1096.36 50.07 L1086.42 49.92 L1076.47 49.84 L1071.50 49.83 L1066.53 49.84 L1056.58 49.92 L1046.64 50.07 L1036.69 50.31 L1026.74 50.62 L1016.78 51.01 L1006.82 51.48 L996.86 52.03 L986.89 52.65 L976.91 53.36 L966.93 54.15 L956.93 55.02 L946.93 55.97 L936.92 57.00 L926.90 58.12 L916.86 59.32 L906.82 60.60 L896.76 61.97 L886.69 63.42 L876.61 64.96 L866.51 66.59 L856.40 68.31 L846.27 70.12 L836.13 72.02 L825.97 74.01 L815.80 76.10 L805.62 78.28 L795.41 80.56 L785.20 82.94 L774.96 85.42 L764.72 88.00 L754.45 90.68 L744.17 93.47 L733.88 96.36 L723.58 99.36 L713.26 102.48 L702.93 105.70 L692.58 109.05 L682.23 112.50 L671.87 116.08 L661.50 119.77 L651.12 123.59 L640.74 127.54 L630.36 131.61 L619.97 135.81 L609.59 140.14 L599.21 144.61 L588.83 149.21 L578.46 153.96 L568.11 158.84 L557.76 163.87 L547.44 169.04 L537.14 174.36 L526.86 179.83 L516.61 185.45 L506.39 191.23 L496.21 197.16 L486.07 203.26 L475.98 209.51 L465.94 215.93 L455.95 222.51 L446.03 229.26 L436.18 236.18 L426.40 243.27 L416.71 250.53 L407.10 257.96 L397.59 265.57 L388.18 273.35 L378.88 281.31 L369.70 289.45 L360.64 297.76 L351.72 306.26 L342.94 314.92 L334.31 323.77 L325.84 332.80 L317.54 342.00 L309.42 351.37 L301.49 360.92 L293.76 370.65 L286.22 380.54 L278.90 390.60 L271.81 400.83 L264.93 411.22 L258.29 421.77 L251.88 432.48 L245.69 443.33 L239.72 454.34 L233.70 466.00 L223.43 494.00 L233.70 522.00 L239.72 533.66 L245.69 544.67 L251.88 555.52 L258.29 566.23 L264.93 576.78 L271.81 587.17 L278.90 597.40 L286.22 607.46 L293.76 617.35 L301.49 627.08 L309.42 636.63 L317.54 646.00 L325.84 655.20 L334.31 664.23 L342.94 673.08 L351.72 681.74 L360.64 690.24 L369.70 698.55 L378.88 706.69 L388.18 714.65 L397.59 722.43 L407.10 730.04 L416.71 737.47 L426.40 744.73 L436.18 751.82 L446.03 758.74 L455.95 765.49 L465.94 772.07 L475.98 778.49 L486.07 784.74 L496.21 790.84 L506.39 796.77 L516.61 802.55 L526.86 808.17 L537.14 813.64 L547.44 818.96 L557.76 824.13 L568.11 829.16 L578.46 834.04 L588.83 838.79 L599.21 843.39 L609.59 847.86 L619.97 852.19 L630.36 856.39 L640.74 860.46 L651.12 864.41 L661.50 868.23 L671.87 871.92 L682.23 875.50 L692.58 878.95 L702.93 882.30 L713.26 885.52 L723.58 888.64 L733.88 891.64 L744.17 894.53 L754.45 897.32 L764.72 900.00 L774.96 902.58 L785.20 905.06 L795.41 907.44 L805.62 909.72 L815.80 911.90 L825.97 913.99 L836.13 915.98 L846.27 917.88 L856.40 919.69 L866.51 921.41 L876.61 923.04 L886.69 924.58 L896.76 926.03 L906.82 927.40 L916.86 928.68 L926.90 929.88 L936.92 931.00 L946.93 932.03 L956.93 932.98 L966.93 933.85 L976.91 934.64 L986.89 935.35 L996.86 935.97 L1006.82 936.52 L1016.78 936.99 L1026.74 937.38 L1036.69 937.69 L1046.64 937.93 L1056.58 938.08 L1066.53 938.16 L1071.50 938.17 L1076.47 938.16 L1086.42 938.08 L1096.36 937.93 L1106.31 937.69 L1116.26 937.38 L1126.22 936.99 L1136.18 936.52 L1146.14 935.97 L1156.11 935.35 L1166.09 934.64 L1176.07 933.85 L1186.07 932.98 L1196.07 932.03 L1206.08 931.00 L1216.10 929.88 L1226.14 928.68 L1236.18 927.40 L1246.24 926.03 L1256.31 924.58 L1266.39 923.04 L1276.49 921.41 L1286.60 919.69 L1296.73 917.88 L1306.87 915.98 L1317.03 913.99 L1327.20 911.90 L1337.38 909.72 L1347.59 907.44 L1357.80 905.06 L1368.04 902.58 L1378.28 900.00 L1388.55 897.32 L1398.83 894.53 L1409.12 891.64 L1419.42 888.64 L1429.74 885.52 L1440.07 882.30 L1450.42 878.95 L1460.77 875.50 L1471.13 871.92 L1481.50 868.23 L1491.88 864.41 L1502.26 860.46 L1512.64 856.39 L1523.03 852.19 L1533.41 847.86 L1543.79 843.39 L1554.17 838.79 L1564.54 834.04 L1574.89 829.16 L1585.24 824.13 L1595.56 818.96 L1605.86 813.64 L1616.14 808.17 L1626.39 802.55 L1636.61 796.77 L1646.79 790.84 L1656.93 784.74 L1667.02 778.49 L1677.06 772.07 L1687.05 765.49 L1696.97 758.74 L1706.82 751.82 L1716.60 744.73 L1726.29 737.47 L1735.90 730.04 L1745.41 722.43 L1754.82 714.65 L1764.12 706.69 L1773.30 698.55 L1782.36 690.24 L1791.28 681.74 L1800.06 673.08 L1808.69 664.23 L1817.16 655.20 L1825.46 646.00 L1833.58 636.63 L1841.51 627.08 L1849.24 617.35 L1856.78 607.46 L1864.10 597.40 L1871.19 587.17 L1878.07 576.78 L1884.71 566.23 L1891.12 555.52 L1897.31 544.67 L1903.28 533.66 L1909.30 522.00 L1919.57 494.00" stroke="#ff9900"/>
</g>
<rect x="196.0" y="39.0" width="1751.0" height="910.0" fill="none" stroke="#262626" stroke-width="2.2"/>
<g class="tick" text-anchor="middle">
<text x="195.3" y="1028">-1.5</text>
<text x="485.9" y="1028">-1</text>
<text x="779.0" y="1028">-0.5</text>
<text x="1070.8" y="1028">0</text>
<text x="1362.6" y="1028">0.5</text>
<text x="1653.3" y="1028">1</text>
<text x="1946.3" y="1028">1.5</text>
</g>
<g class="tick" text-anchor="end">
<text x="173.7" y="60.5">1</text>
<text x="175.4" y="288.0">0.5</text>
<text x="175.4" y="515.5">0</text>
<text x="175.4" y="743.0">-0.5</text>
<text x="173.7" y="970.5">-1</text>
</g>
<text class="lab" text-anchor="middle" x="1069.8" y="1104.6">P (pu)</text>
<text class="lab" text-anchor="middle" transform="translate(74 494) rotate(-90)">Q (pu)</text>
<g fill="#548235">
<rect x="1647" y="255" width="16" height="201"/>
<polygon points="1631,256 1679,256 1655,232"/>
</g>
<circle cx="1655" cy="200" r="24" fill="#000"/>
<circle cx="1655" cy="489" r="24" fill="#000"/>
<rect x="1682.2" y="119.2" width="188.8" height="81.7" fill="#000"/>
<rect x="1685.3" y="123.1" width="182.6" height="74.6" fill="#fff"/>
<text class="ann" text-anchor="middle" transform="translate(1775.4 177) scale(0.985 1)">Point B</text>
<rect x="1444.2" y="385.1" width="188.9" height="81.7" fill="#000"/>
<rect x="1447.1" y="388.1" width="183.1" height="75.9" fill="#fff"/>
<text class="ann" text-anchor="middle" transform="translate(1538 442.3) scale(0.985 1)">Point A</text>
<rect x="1953" y="37" width="466" height="747" fill="#fff" stroke="#262626" stroke-width="2" shape-rendering="crispEdges"/>
<rect x="1980" y="97" width="98" height="14" fill="#0000ff"/>
<text class="leg" y="112.4" xml:space="preserve"><tspan x="2085.2">C</tspan><tspan class="sub" x="2129.2" dy="26.5">sm</tspan><tspan x="2185.2" dy="-26.5"> =4 mF</tspan></text>
<rect x="1980" y="219" width="98" height="14" fill="#9900ff"/>
<text class="leg" y="235.0" xml:space="preserve"><tspan x="2085.2">C</tspan><tspan class="sub" x="2129.2" dy="26.5">sm</tspan><tspan x="2185.2" dy="-26.5">=4.5 mF</tspan></text>
<rect x="1980" y="342" width="98" height="14" fill="#cc00ff"/>
<text class="leg" y="357.6" xml:space="preserve"><tspan x="2085.2">C</tspan><tspan class="sub" x="2129.2" dy="26.5">sm</tspan><tspan x="2185.2" dy="-26.5">=5.0 mF</tspan></text>
<rect x="1980" y="464" width="98" height="14" fill="#ff0066"/>
<text class="leg" y="480.2" xml:space="preserve"><tspan x="2085.2">C</tspan><tspan class="sub" x="2129.2" dy="26.5">sm</tspan><tspan x="2185.2" dy="-26.5">=5.5 mF</tspan></text>
<rect x="1980" y="587" width="98" height="14" fill="#ff3300"/>
<text class="leg" y="602.8" xml:space="preserve"><tspan x="2085.2">C</tspan><tspan class="sub" x="2129.2" dy="26.5">sm</tspan><tspan x="2185.2" dy="-26.5">=6.0 mF</tspan></text>
<rect x="1980" y="710" width="98" height="14" fill="#ff9900"/>
<text class="leg" y="725.4" xml:space="preserve"><tspan x="2085.2">C</tspan><tspan class="sub" x="2129.2" dy="26.5">sm</tspan><tspan x="2185.2" dy="-26.5">=6.5 mF</tspan></text>
</svg>
</body></html>
